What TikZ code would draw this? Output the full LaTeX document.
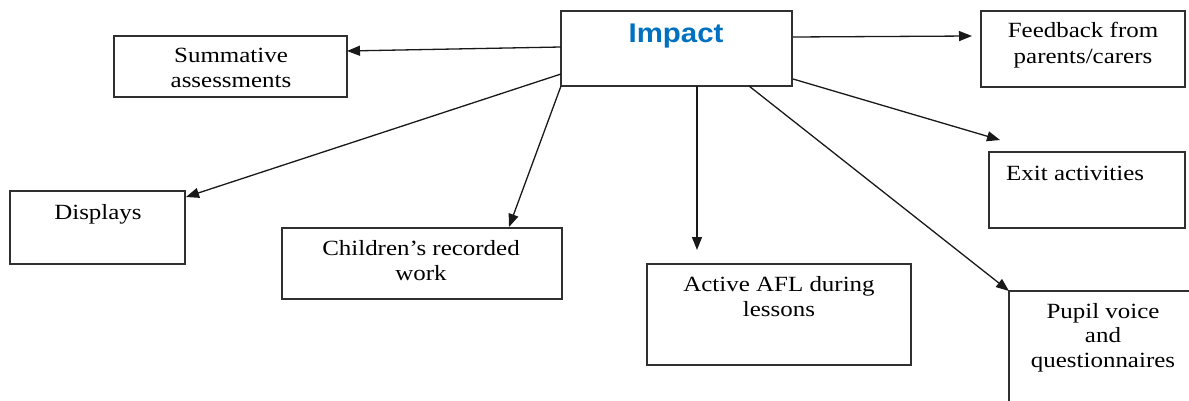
\documentclass[tikz,border=0pt]{standalone}
\usepackage{fontspec}
\setmainfont{Liberation Serif}
\newfontfamily\bodyfont[FakeStretch=1.15]{Liberation Serif}
\newfontfamily\headfont[FakeStretch=1.09]{Liberation Sans}
\usetikzlibrary{arrows.meta,calc}
\definecolor{impblue}{HTML}{0070C0}
\definecolor{linegray}{HTML}{303030}
\begin{document}
\begin{tikzpicture}[x=1pt,y=-1pt,
  box/.style={draw=linegray,line width=1.4pt,inner sep=0pt,outer sep=0pt,anchor=north west,fill=white},
  txt/.style={inner sep=0pt,font=\bodyfont\fontsize{21.7}{25}\selectfont,text=black,anchor=base},
  conn/.style={draw=black!90,line width=1.3pt,-{Triangle[length=13pt,width=10pt]}}
]
\useasboundingbox (0,0) rectangle (1189,401);
% boxes
\node[box,minimum width=231pt,minimum height=75pt] (imp) at (561,11) {};
\node[box,minimum width=233pt,minimum height=61pt] (sum) at (114,36) {};
\node[box,minimum width=204pt,minimum height=76pt] (fb) at (981,11) {};
\node[box,minimum width=196pt,minimum height=76pt] (exit) at (989,152) {};
\node[box,minimum width=175pt,minimum height=73pt] (disp) at (10,191) {};
\node[box,minimum width=280pt,minimum height=71pt] (child) at (282,228) {};
\node[box,minimum width=264pt,minimum height=101pt] (act) at (647,264) {};
\node[box,minimum width=220pt,minimum height=140pt] (pup) at (1009,291) {};
% texts
\node[inner sep=0pt,anchor=base,font=\headfont\bfseries\fontsize{27}{30}\selectfont,text=impblue] (impt) at (676,42.5) {Impact};
\node[txt] (sum1) at (231,63) {Summative};
\node[txt] (sum2) at (231,88) {assessments};
\node[txt] (disp1) at (98,219) {Displays};
\node[txt] (child1) at (421,255) {Children’s recorded};
\node[txt] (child2) at (421,280) {work};
\node[txt] (act1) at (779,291) {Active AFL during};
\node[txt] (act2) at (779,316) {lessons};
\node[txt] (fb1) at (1083,38) {Feedback from};
\node[txt] (fb2) at (1083,64) {parents/carers};
\node[txt,anchor=base west] (exit1) at (1006,181) {Exit activities};
\node[txt] (pup1) at (1103,318) {Pupil voice};
\node[txt] (pup2) at (1103,342) {and};
\node[txt] (pup3) at (1103,367) {questionnaires};
% connectors
\draw[conn] ($(imp.north west)+(0,36)$) -- ($(sum.north east)+(0,15)$);
\draw[conn] ($(imp.north west)+(0,63)$) -- ($(disp.north east)+(1,6)$);
\draw[conn] (imp.south west) -- ($(child.north west)+(227,-1)$);
\draw[conn] ($(imp.south west)+(136,0)$) -- ($(act.north west)+(50,-14)$);
\draw[conn] ($(imp.south west)+(188,0)$) -- (pup.north west);
\draw[conn] ($(imp.north east)+(1,68)$) -- ($(exit.north west)+(11,-12)$);
\draw[conn] ($(imp.north east)+(1,26)$) -- ($(fb.north west)+(-9,25)$);
\end{tikzpicture}
\end{document}
